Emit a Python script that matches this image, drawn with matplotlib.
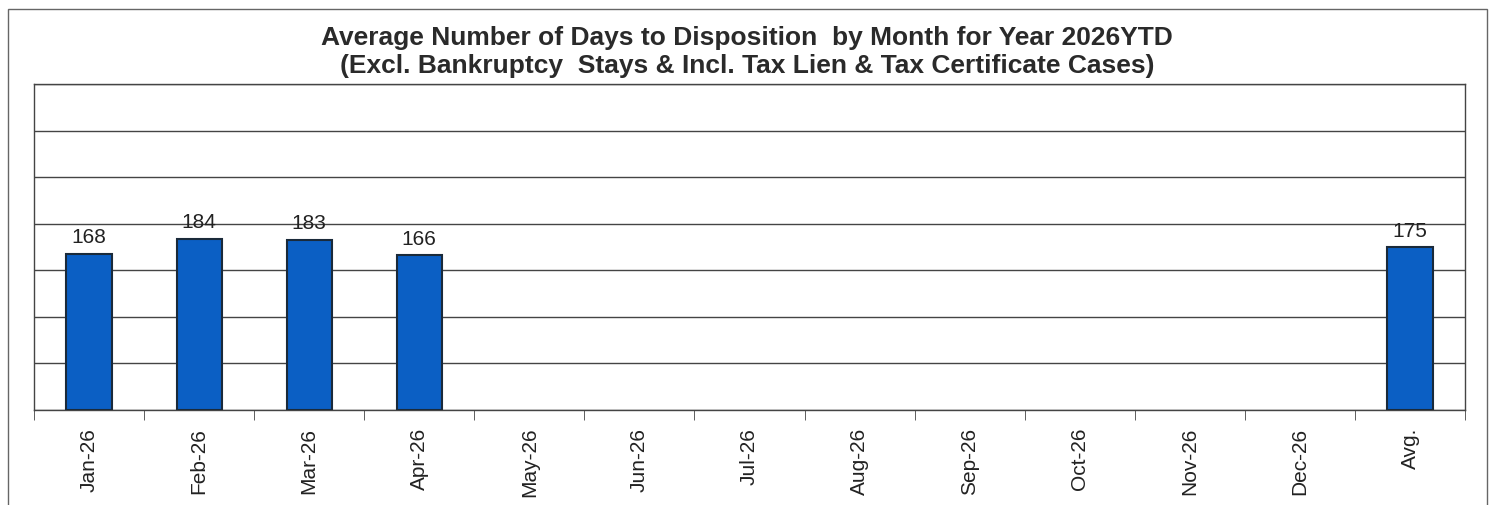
import numpy as np
import matplotlib.pyplot as plt
from matplotlib.patches import Rectangle

plt.rcParams['font.family'] = ['Liberation Sans', 'DejaVu Sans']

months = ['Jan-26', 'Feb-26', 'Mar-26', 'Apr-26', 'May-26', 'Jun-26', 'Jul-26',
          'Aug-26', 'Sep-26', 'Oct-26', 'Nov-26', 'Dec-26', 'Avg.']
days = [168, 184, 183, 166, None, None, None, None, None, None, None, None, 175]

fig = plt.figure(figsize=(14.94, 5.06), dpi=100)
ax = fig.add_axes([34 / 1494, 1 - 411 / 506, (1465 - 34) / 1494, (411 - 85) / 506])

x = np.arange(len(months))
# only months that have a value get a bar
xb = [xi for xi, v in zip(x, days) if v is not None]
yb = [v for v in days if v is not None]
ax.bar(xb, yb, width=0.41, color='#0b5fc4', edgecolor='#1a2a3a',
       linewidth=1.5, zorder=3)
for xi, v in zip(xb, yb):
    ax.text(xi, v + 8, str(v), ha='center', va='bottom', fontsize=15, color='#222222')

ax.set_xlim(-0.5, len(months) - 0.5)
ax.set_ylim(0, 350)
ax.set_yticks(np.arange(0, 351, 50))
ax.set_yticklabels([])
ax.tick_params(axis='y', length=0)
ax.yaxis.grid(True, color='#444444', linewidth=1)
ax.set_axisbelow(True)

ax.set_xticks(x)
ax.set_xticklabels(months, rotation=90, fontsize=15, color='#222222')
ax.tick_params(axis='x', which='major', length=0, pad=12)
ax.set_xticks(np.arange(-0.5, len(months), 1), minor=True)
ax.tick_params(axis='x', which='minor', length=7, direction='out', color='#444444')

for s in ax.spines.values():
    s.set_color('#444444')
    s.set_linewidth(1)

fig.text(0.5, 1 - 38 / 506, 'Average Number of Days to Disposition  by Month for Year 2026YTD',
         ha='center', va='center', fontsize=19, fontweight='bold', color='#2a2a2a')
fig.text(0.5, 1 - 66 / 506, '(Excl. Bankruptcy  Stays & Incl. Tax Lien & Tax Certificate Cases)',
         ha='center', va='center', fontsize=19, fontweight='bold', color='#2a2a2a')

fig.patches.append(Rectangle((8 / 1494, -0.05), (1487 - 8) / 1494, 1.05 - 10 / 506,
                             transform=fig.transFigure, fill=False,
                             edgecolor='#666666', linewidth=1))

fig.savefig('out.png', dpi=100)
